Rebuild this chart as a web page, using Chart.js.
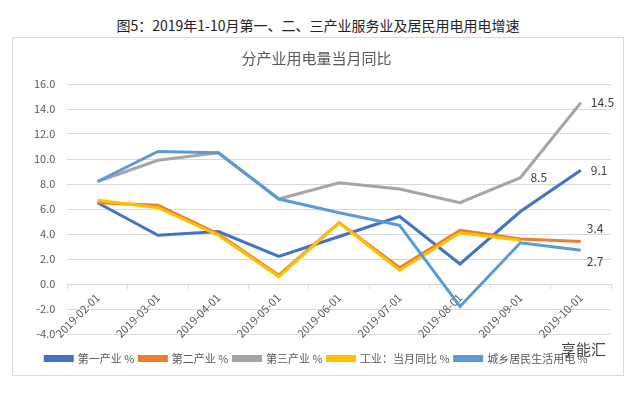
<!DOCTYPE html>
<html lang="zh">
<head>
    <meta charset="utf-8">
    <title>分产业用电量当月同比</title>
    <script src="https://cdn.jsdelivr.net/npm/chart.js"></script>
    <style>
        body, html { margin: 0; padding: 0; background: #fff; font-family: "Noto Sans CJK SC", sans-serif; }
        #page-title {
            position: absolute; left: 0; top: 15px; width: 636px;
            text-align: center; font-size: 14px; line-height: 20px; color: #222;
        }
        #chart-box {
            position: absolute; left: 12px; top: 37px;
            width: 610px; height: 337px;
            border: 1px solid #d9d9d9;
        }
        #mark {
            position: absolute; left: 561px; top: 339px;
            font-size: 15px; line-height: 20px; color: #444;
        }
    </style>
</head>
<body>
    <div id="page-title">图5：2019年1-10月第一、二、三产业服务业及居民用电用电增速</div>
    <div id="chart-box"><canvas id="chart" width="610" height="337"></canvas></div>
    <div id="mark">享能汇</div>
    <script>
        // Data
        const months = ['2019-02-01', '2019-03-01', '2019-04-01', '2019-05-01', '2019-06-01',
                        '2019-07-01', '2019-08-01', '2019-09-01', '2019-10-01'];
        const primary     = [6.5, 3.9, 4.2, 2.2, 3.8, 5.4, 1.6, 5.8, 9.1];
        const secondary   = [6.5, 6.3, 4.0, 0.7, 4.9, 1.3, 4.3, 3.6, 3.4];
        const tertiary    = [8.2, 9.9, 10.5, 6.8, 8.1, 7.6, 6.5, 8.5, 14.5];
        const industry    = [6.7, 6.1, 3.9, 0.6, 4.9, 1.1, 4.1, 3.5, null];
        const residential = [8.2, 10.6, 10.5, 6.8, 5.7, 4.7, -1.8, 3.3, 2.7];

        const seriesNames = ['第一产业 %', '第二产业 %', '第三产业 %', '工业：当月同比 %', '城乡居民生活用电 %'];
        const seriesColors = ['#4472c4', '#ed7d31', '#a5a5a5', '#ffc000', '#5b9bd5'];
        const seriesData = [primary, secondary, tertiary, industry, residential];

        // which points get value labels: [dataset, index, dx, dy]
        const valueLabels = [
            [2, 8, 10, 0],
            [0, 8, 10, 0],
            [2, 7, 10, 0],
            [1, 8, 6, -13],
            [4, 8, 6, 11]
        ];

        const labelPlugin = {
            id: 'valueLabels',
            afterDatasetsDraw(chart) {
                const ctx = chart.ctx;
                ctx.save();
                ctx.font = '12px "Noto Sans CJK SC", sans-serif';
                ctx.fillStyle = '#404040';
                ctx.textAlign = 'left';
                ctx.textBaseline = 'middle';
                valueLabels.forEach(([ds, i, dx, dy]) => {
                    const pt = chart.getDatasetMeta(ds).data[i];
                    ctx.fillText(seriesData[ds][i].toFixed(1), pt.x + dx, pt.y + dy);
                });
                ctx.restore();
            }
        };

        const ctx = document.getElementById('chart').getContext('2d');
        const chart = new Chart(ctx, {
            type: 'line',
            data: {
                labels: months,
                datasets: seriesData.map((d, k) => ({
                    label: seriesNames[k],
                    data: d,
                    borderColor: seriesColors[k],
                    backgroundColor: seriesColors[k],
                    borderWidth: 3,
                    pointRadius: 0,
                    tension: 0,
                    fill: false,
                    order: 5 - k // later series on top, like the original
                }))
            },
            options: {
                responsive: false,
                animation: false,
                layout: { padding: { left: 9, right: 12, top: 0, bottom: 1 } },
                plugins: {
                    title: {
                        display: true,
                        text: '分产业用电量当月同比',
                        color: '#595959',
                        font: { family: '"Noto Sans CJK SC"', size: 15, weight: 'normal' },
                        padding: { top: 11, bottom: 17 }
                    },
                    legend: {
                        position: 'bottom',
                        title: { display: true, text: '', font: { size: 10 }, padding: 1 },
                        labels: {
                            boxWidth: 27,
                            boxHeight: 4,
                            color: '#595959',
                            font: { family: '"Noto Sans CJK SC"', size: 11 },
                            padding: 5,
                            sort: (a, b) => a.datasetIndex - b.datasetIndex
                        }
                    },
                    tooltip: { enabled: false }
                },
                scales: {
                    x: {
                        position: { y: 0 },
                        offset: true,
                        grid: { offset: true, drawOnChartArea: false, tickLength: 4, color: '#d9d9d9' },
                        border: { color: '#d9d9d9' },
                        ticks: {
                            color: '#595959',
                            font: { family: '"Noto Sans CJK SC"', size: 11 },
                            maxRotation: 45,
                            minRotation: 45,
                            autoSkip: false
                        }
                    },
                    y: {
                        min: -4,
                        max: 16,
                        grid: { color: '#d9d9d9', drawTicks: false },
                        border: { display: false },
                        ticks: {
                            stepSize: 2,
                            padding: 12,
                            color: '#595959',
                            font: { family: '"Noto Sans CJK SC"', size: 11 },
                            callback: v => v.toFixed(1)
                        }
                    }
                }
            },
            plugins: [labelPlugin]
        });
    </script>
</body>
</html>
